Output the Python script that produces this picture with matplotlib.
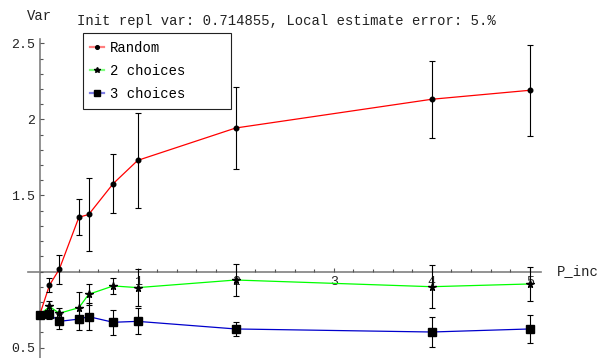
import matplotlib.pyplot as plt
from matplotlib.lines import Line2D
from matplotlib.colors import to_rgba
from matplotlib.ticker import FixedLocator
import numpy as np

plt.rcParams['font.family'] = ['Liberation Mono', 'DejaVu Sans Mono']

p_inc = [0, 0.1, 0.2, 0.4, 0.5, 0.75, 1, 2, 4, 5]
random_var = [0.714855, 0.91, 1.015, 1.357, 1.375, 1.578, 1.731, 1.944, 2.133, 2.192]
random_err = [0, 0.045, 0.095, 0.117, 0.24, 0.194, 0.31, 0.268, 0.254, 0.298]
two_var = [0.714855, 0.77, 0.725, 0.762, 0.85, 0.905, 0.894, 0.944, 0.90, 0.918]
two_err = [0, 0.035, 0.033, 0.1, 0.068, 0.055, 0.122, 0.107, 0.14, 0.11]
three_var = [0.714855, 0.72, 0.672, 0.687, 0.703, 0.666, 0.672, 0.622, 0.602, 0.622]
three_err = [0, 0.03, 0.05, 0.072, 0.088, 0.082, 0.085, 0.048, 0.1, 0.095]

labels = ['Random', '2 choices', '3 choices']
colors = ['#ff0000', '#00ff00', '#0000cc']
markers = [('o', 3.3), ('*', 5.5), ('s', 5.5)]
title = 'Init repl var: 0.714855, Local estimate error: 5.%'

fig = plt.figure(figsize=(5.99, 3.58), dpi=100)
ax = fig.add_axes([0, 0, 1, 1])
ax.set_xlim(-0.405, 5.707)
ax.set_ylim(0.431, 2.786)

# axes crossing at (0, 1)
for s in ['top', 'right']:
    ax.spines[s].set_visible(False)
ax.spines['left'].set_position(('data', 0))
ax.spines['bottom'].set_position(('data', 1))
ax.spines['left'].set_bounds(0.43, 2.53)
ax.spines['bottom'].set_bounds(-0.12, 5.12)
for s in ['left', 'bottom']:
    ax.spines[s].set_color('#808080')
    ax.spines[s].set_linewidth(1.2)
    ax.spines[s].set_zorder(1)

ax.xaxis.set_major_locator(FixedLocator([1, 2, 3, 4, 5]))
ax.xaxis.set_minor_locator(FixedLocator(np.arange(0.2, 5.1, 0.2)))
ax.yaxis.set_major_locator(FixedLocator([0.5, 1.5, 2, 2.5]))
ax.yaxis.set_minor_locator(FixedLocator(np.arange(0.5, 2.55, 0.1)))
ax.set_yticklabels(['0.5', '1.5', '2', '2.5'])
ax.tick_params(which='both', direction='in', color='#555555', width=0.8,
               labelsize=9.5, labelcolor='#222222', pad=3.5)
ax.tick_params(which='major', length=3)
ax.tick_params(which='minor', length=2)

series = [(random_var, random_err), (two_var, two_err), (three_var, three_err)]
handles = []
for (vals, errs), c, (m, ms), lab in zip(series, colors, markers, labels):
    ax.plot(p_inc, vals, color=c, lw=0.9, zorder=2)
    ax.errorbar(p_inc[1:], vals[1:], yerr=errs[1:], fmt='none', ecolor='black',
                elinewidth=0.8, capsize=2, capthick=0.8, zorder=3)
    ax.plot(p_inc, vals, ls='none', marker=m, ms=ms, color='black', zorder=4)
    handles.append(Line2D([], [], color=to_rgba(c, 0.5), lw=1.6, marker=m,
                          ms=ms * 0.8, mfc='black', mec='black'))

# legend box spans x 82.7..231 px, y 33.3..107.3 px from the top
leg = ax.legend(handles, labels, loc='upper left', mode='expand',
                bbox_to_anchor=(82.7 / 599, 1 - 107.3 / 358, 148.3 / 599, 74 / 358),
                bbox_transform=fig.transFigure, fontsize=10, frameon=True,
                fancybox=False, framealpha=1, edgecolor='#222222',
                borderpad=0.55, labelspacing=0.65, handlelength=1.0,
                handletextpad=0.4, borderaxespad=0)
leg.get_frame().set_linewidth(0.8)
leg.set_zorder(5)

fig.text(77 / 599, 1 - 21.5 / 358, title, ha='left', va='center', fontsize=10,
         color='#222222')
ax.text(0, 2.681, 'Var', ha='center', va='center', fontsize=10, color='#222222')
ax.text(5.28, 1.005, 'P_inc', ha='left', va='center', fontsize=10, color='#222222')

fig.savefig('out.png', dpi=100)
